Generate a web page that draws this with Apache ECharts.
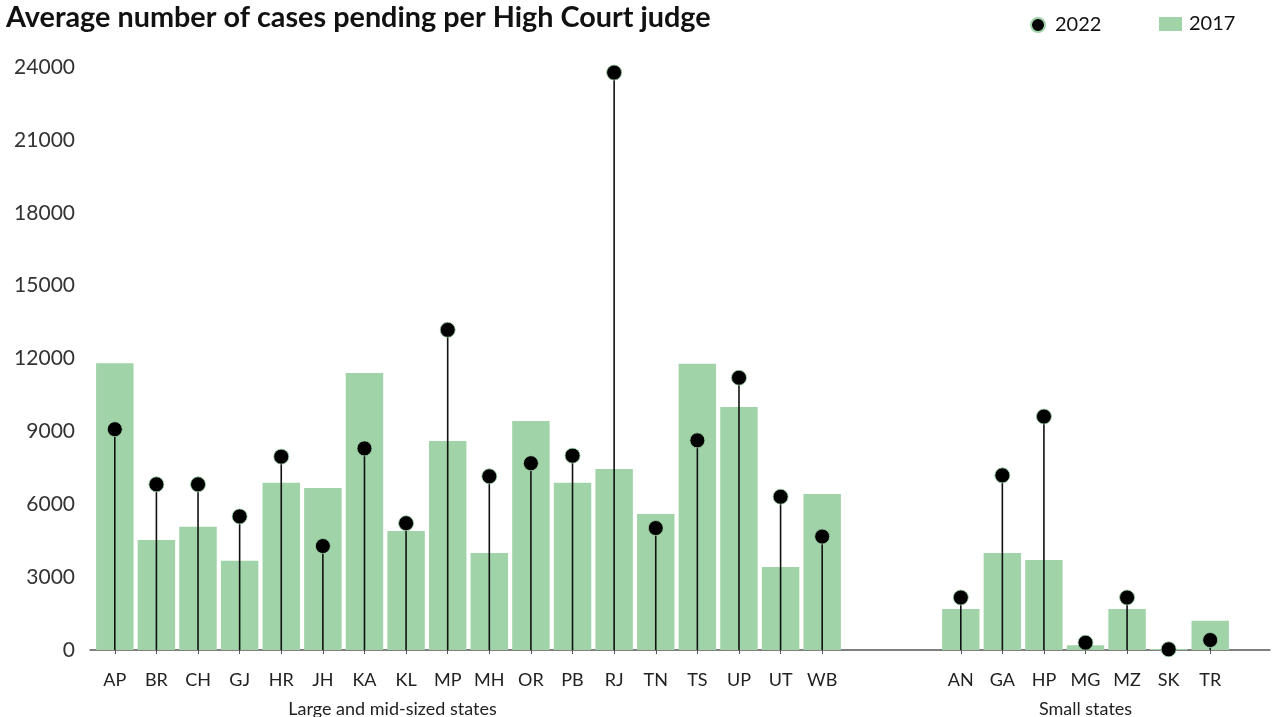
<!DOCTYPE html>
<html>
<head>
<meta charset="utf-8">
<script src="https://cdn.jsdelivr.net/npm/echarts@6/dist/echarts.min.js"></script>
<style>
  html, body { margin: 0; padding: 0; background: #ffffff; }
  #chart { width: 1275px; height: 717px; }
</style>
</head>
<body>
<div id="chart"></div>
<script>
// ---- data ----
const largeStates = ['AP','BR','CH','GJ','HR','JH','KA','KL','MP','MH','OR','PB','RJ','TN','TS','UP','UT','WB'];
const large2017 = [11800, 4530, 5070, 3670, 6880, 6670, 11400, 4900, 8600, 3990, 9430, 6880, 7450, 5600, 11780, 10000, 3420, 6420];
const large2022 = [9090, 6820, 6820, 5500, 7960, 4280, 8300, 5220, 13180, 7150, 7690, 8000, 23770, 5020, 8630, 11210, 6310, 4670];
const smallStates = ['AN','GA','HP','MG','MZ','SK','TR'];
const small2017 = [1690, 3990, 3710, 200, 1690, 40, 1200];
const small2022 = [2160, 7190, 9610, 300, 2160, 30, 410];
const yTicks = { min: 0, max: 24000, interval: 3000 };
const groupLabels = ['Large and mid-sized states', 'Small states'];
const titleText = 'Average number of cases pending per High Court judge';

// ---- styles ----
const GREEN = '#a0d4a8';
const FONT = 'Lato';
const TOP = 67, BOTTOM = 67;

const chart = echarts.init(document.getElementById('chart'), null, { renderer: 'canvas' });

function catAxis(gridIndex, data, visible, name, namePad) {
  return {
    type: 'category', gridIndex: gridIndex, data: data, show: visible,
    offset: 10,
    axisLine: { show: false },
    axisTick: { show: true, alignWithLabel: true, length: 4, lineStyle: { color: '#555', width: 1 } },
    axisLabel: { fontFamily: FONT, fontSize: 18, color: '#222', margin: 11 },
    name: name || '', nameLocation: 'middle', nameGap: 40,
    nameTextStyle: { fontFamily: FONT, fontSize: 18, color: '#222', padding: namePad || 0 }
  };
}
function hiddenY(gridIndex) {
  return { type: 'value', gridIndex: gridIndex, min: yTicks.min, max: yTicks.max, interval: yTicks.interval, show: false };
}
function grid(left, right) {
  return { left: left, right: right, top: TOP, bottom: BOTTOM, containLabel: false, outerBoundsMode: 'none' };
}

const option = {
  animation: false,
  backgroundColor: '#ffffff',
  title: {
    text: titleText, left: 6, top: 3, padding: 0,
    textStyle: { fontFamily: FONT, fontWeight: 'bold', fontSize: 28.8, color: '#111' }
  },
  legend: [
    {
      data: [{ name: '2022', icon: 'circle' }],
      left: 1030, top: 15, padding: 0, itemWidth: 14, itemHeight: 14,
      textStyle: { fontFamily: FONT, fontSize: 20, color: '#111', padding: [0, 0, 0, 5] }
    },
    {
      data: [{ name: '2017', icon: 'rect' }],
      left: 1159, top: 14, padding: 0, itemWidth: 23, itemHeight: 14,
      textStyle: { fontFamily: FONT, fontSize: 20, color: '#111', padding: [0, 0, 0, 2] }
    }
  ],
  grid: [
    grid(90, 5),
    grid(94, 1275 - 843),
    grid(940, 1275 - 1231)
  ],
  xAxis: [
    { type: 'category', gridIndex: 0, data: [''], axisLine: { show: true, lineStyle: { color: '#555', width: 1.5 } },
      axisTick: { show: false }, axisLabel: { show: false } },
    catAxis(1, largeStates, true, groupLabels[0], [0, 152, 0, 0]),
    Object.assign(catAxis(1, largeStates, false), { show: false }),
    catAxis(2, smallStates, true, groupLabels[1]),
    Object.assign(catAxis(2, smallStates, false), { show: false })
  ],
  yAxis: [
    { type: 'value', gridIndex: 0, min: yTicks.min, max: yTicks.max, interval: yTicks.interval,
      splitLine: { show: false }, axisLine: { show: false }, axisTick: { show: false },
      axisLabel: { fontFamily: FONT, fontSize: 21, color: '#333', margin: 15, padding: [3, 0, 0, 0],
        formatter: function (v) { return String(v); } } },
    hiddenY(1),
    hiddenY(2)
  ],
  series: [
    { name: '2017', type: 'bar', xAxisIndex: 1, yAxisIndex: 1, data: large2017,
      barCategoryGap: '10%', itemStyle: { color: GREEN }, z: 1 },
    { name: 'stem-large', type: 'bar', xAxisIndex: 2, yAxisIndex: 1, data: large2022,
      barWidth: 1.6, itemStyle: { color: '#111' }, z: 2 },
    { name: '2022', type: 'scatter', xAxisIndex: 1, yAxisIndex: 1, data: large2022,
      symbol: 'circle', symbolSize: 15, itemStyle: { color: '#000', borderColor: GREEN, borderWidth: 0.8, opacity: 1 }, z: 3 },
    { name: '2017', type: 'bar', xAxisIndex: 3, yAxisIndex: 2, data: small2017,
      barCategoryGap: '10%', itemStyle: { color: GREEN }, z: 1 },
    { name: 'stem-small', type: 'bar', xAxisIndex: 4, yAxisIndex: 2, data: small2022,
      barWidth: 1.6, itemStyle: { color: '#111' }, z: 2 },
    { name: '2022', type: 'scatter', xAxisIndex: 3, yAxisIndex: 2, data: small2022,
      symbol: 'circle', symbolSize: 15, itemStyle: { color: '#000', borderColor: GREEN, borderWidth: 0.8, opacity: 1 }, z: 3 }
  ]
};
chart.setOption(option);
</script>
</body>
</html>
